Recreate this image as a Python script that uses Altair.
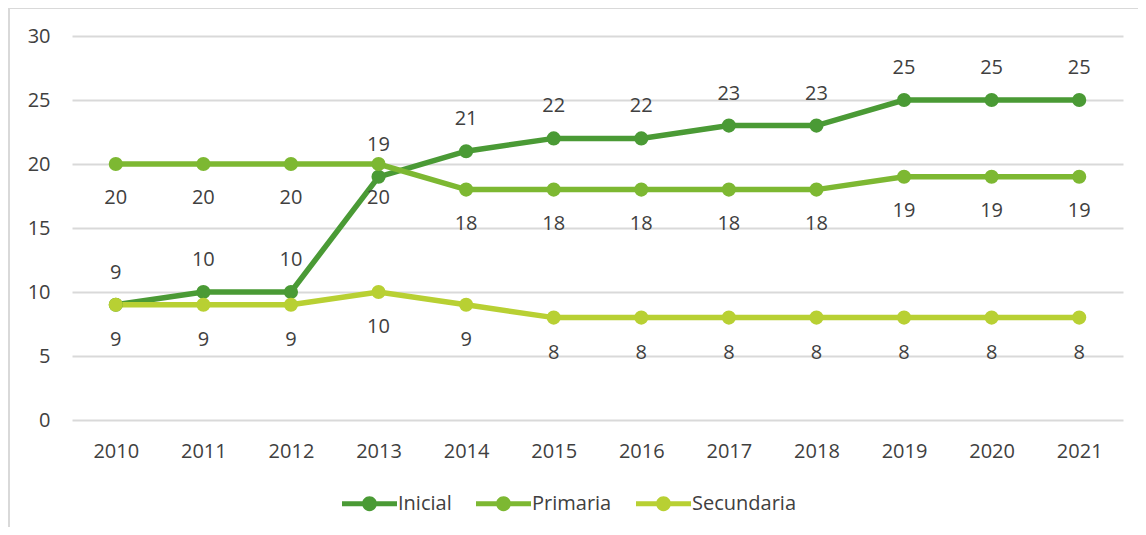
import altair as alt
import pandas as pd

years = ["2010", "2011", "2012", "2013", "2014", "2015", "2016", "2017", "2018", "2019", "2020", "2021"]
series = ["Inicial", "Primaria", "Secundaria"]
inicial = [9, 10, 10, 19, 21, 22, 22, 23, 23, 25, 25, 25]
primaria = [20, 20, 20, 20, 18, 18, 18, 18, 18, 19, 19, 19]
secundaria = [9, 9, 9, 10, 9, 8, 8, 8, 8, 8, 8, 8]
colors = ["#4a9a35", "#7db832", "#b8d033"]
label_dy = [-32, 34, 35]

values = {"Inicial": inicial, "Primaria": primaria, "Secundaria": secundaria}
rows = []
for s in series:
    for y, v in zip(years, values[s]):
        rows.append({"serie": s, "year": y, "value": v})
df = pd.DataFrame(rows)

FONT = "Open Sans"
TXT = "#404040"
FS = 20

x_enc = alt.X("year:N", sort=years, scale=alt.Scale(padding=0.5),
              axis=alt.Axis(title=None, labelAngle=0, ticks=False, domain=False, grid=False,
                            labelPadding=21, labelFont=FONT, labelFontSize=FS, labelColor=TXT))
y_enc = alt.Y("value:Q", scale=alt.Scale(domain=[0, 30], nice=False),
              axis=alt.Axis(title=None, values=[0, 5, 10, 15, 20, 25, 30], ticks=False, domain=False,
                            grid=True, gridColor="#d9d9d9", gridWidth=2, labelPadding=22,
                            labelFont=FONT, labelFontSize=FS, labelColor=TXT))

base = alt.Chart(df)
layers = []
for s, c in zip(series, colors):
    layers.append(base.transform_filter(alt.datum.serie == s).mark_line(strokeWidth=5.5, color=c).encode(x=x_enc, y=y_enc))

sym_path = ("M-1,-0.09H1V0.09H-1Z "
            "M-0.27,0A0.27,0.27,0,1,1,0.27,0A0.27,0.27,0,1,1,-0.27,0Z")

points = base.mark_point(filled=True, size=200, opacity=1).encode(
    x=x_enc, y=y_enc,
    color=alt.Color("serie:N", scale=alt.Scale(domain=series, range=colors),
                    legend=alt.Legend(title=None, orient="none", direction="horizontal",
                                      legendX=270, legendY=440,
                                      symbolType=sym_path, symbolSize=3025, symbolStrokeWidth=0,
                                      symbolOpacity=1,
                                      labelFont=FONT, labelFontSize=FS, labelColor=TXT,
                                      labelOffset=1, columnPadding=24)),
    order=alt.Order("serie:N")
)
layers.append(points)

for s, dy in zip(series, label_dy):
    layers.append(base.transform_filter(alt.datum.serie == s).mark_text(
        dy=dy, font=FONT, fontSize=FS, color=TXT).encode(x=x_enc, y=y_enc, text="value:Q"))

one = pd.DataFrame({"a": [0]})
frame_left = alt.Chart(one).mark_rule(color="#d9d9d9", strokeWidth=2).encode(
    x=alt.value(-63), y=alt.value(-28), y2=alt.value(700))
frame_top = alt.Chart(one).mark_rule(color="#d9d9d9", strokeWidth=2).encode(
    x=alt.value(-63), x2=alt.value(1200), y=alt.value(-28))

chart = alt.layer(frame_left, frame_top, *layers).properties(
    width=1051, height=384,
    autosize=alt.AutoSizeParams(type="none"),
    padding={"left": 64, "top": 28, "right": 15, "bottom": 107},
    background="white"
).configure_view(stroke=None)

chart.save("out.html", embed_options={"renderer": "svg", "actions": False})
